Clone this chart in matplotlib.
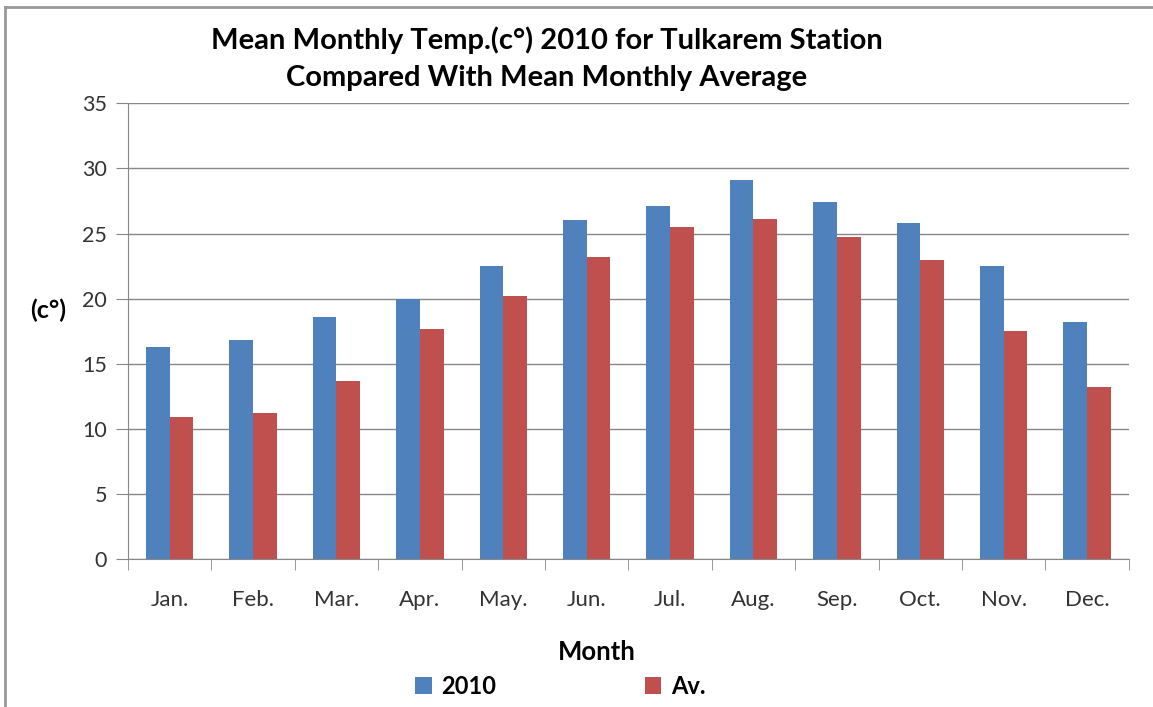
import numpy as np
import matplotlib.pyplot as plt
from matplotlib.lines import Line2D

# Data
months = ["Jan.", "Feb.", "Mar.", "Apr.", "May.", "Jun.",
          "Jul.", "Aug.", "Sep.", "Oct.", "Nov.", "Dec."]
temp_2010 = [16.3, 16.8, 18.6, 20.0, 22.5, 26.0, 27.1, 29.1, 27.4, 25.8, 22.5, 18.2]
temp_avg = [10.9, 11.2, 13.7, 17.7, 20.2, 23.2, 25.5, 26.1, 24.7, 23.0, 17.5, 13.2]

plt.rcParams['font.family'] = ['Lato', 'DejaVu Sans']

fig = plt.figure(figsize=(11.53, 7.07), dpi=100)
ax = fig.add_axes([0.111, 0.209, 0.868, 0.645])

x = np.arange(len(months))
w = 0.285
ax.bar(x - w / 2, temp_2010, width=w, color="#4F81BD", label="2010")
ax.bar(x + w / 2, temp_avg, width=w, color="#C0504D", label="Av.")

ax.set_xlim(-0.5, 11.5)
ax.set_ylim(0, 35)
ax.set_yticks(range(0, 36, 5))
ax.tick_params(axis="y", labelsize=15.5, length=9, color="#888888", pad=6, labelcolor="#333333")
ax.set_xticks(x)
ax.set_xticklabels(months)
ax.tick_params(axis="x", which="major", length=0, labelsize=16, pad=22, labelcolor="#333333")
ax.set_xticks(np.arange(-0.5, 12, 1), minor=True)
ax.tick_params(axis="x", which="minor", length=8, color="#888888")

ax.grid(axis="y", color="#888888", linewidth=1)
ax.set_axisbelow(True)
for s in ["top", "right"]:
    ax.spines[s].set_visible(False)
for s in ["left", "bottom"]:
    ax.spines[s].set_color("#888888")

ax.set_xlabel("Month", fontsize=18.5, fontweight="bold")
ax.xaxis.set_label_coords(0.468, -0.178)
ax.set_ylabel("(c°)", fontsize=18, fontweight="bold", rotation=0)
ax.yaxis.set_label_coords(-0.08, 0.52)

fig.text(0.474, 0.917, "Mean Monthly Temp.(c°) 2010 for Tulkarem Station\nCompared With Mean Monthly Average",
         ha="center", va="center", fontsize=21, fontweight="bold", linespacing=1.55)

ax.legend(loc="center", bbox_to_anchor=(0.432, -0.278), ncol=2, frameon=False,
          prop={"size": 17, "weight": "bold"}, handlelength=0.7, handleheight=0.7,
          columnspacing=6.3, handletextpad=0.4)

# outer frame lines
fig.add_artist(Line2D([0.004, 0.004], [0, 0.99], transform=fig.transFigure, color="#999999", linewidth=2))
fig.add_artist(Line2D([0.004, 1], [0.99, 0.99], transform=fig.transFigure, color="#999999", linewidth=2))

fig.savefig("out.png")
